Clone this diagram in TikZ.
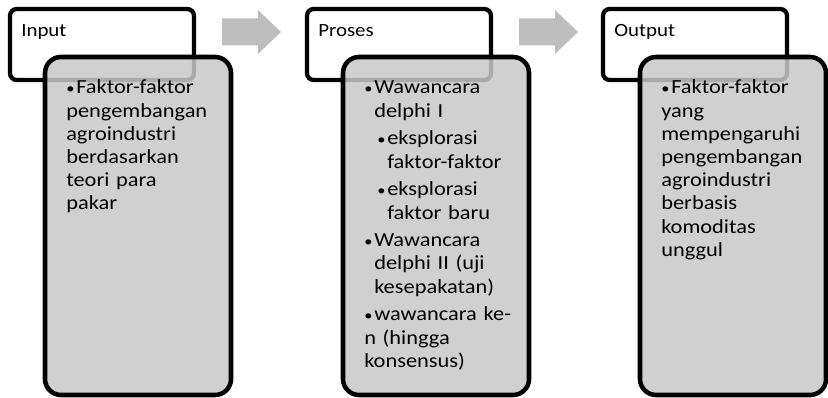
\documentclass[tikz,border=0pt]{standalone}
\usepackage{fontspec}
\setmainfont{Carlito}[FakeStretch=1.12]

\definecolor{panelgray}{RGB}{200,200,200}
\definecolor{arrowgray}{RGB}{190,190,190}

\newcommand{\dotmark}{\makebox[7.5pt][l]{\fontsize{11}{11}\selectfont\textbullet}}
\newcommand{\bitem}[1]{\hangindent=7.5pt\hangafter=1\noindent\dotmark#1}
\newcommand{\bsubitem}[1]{\hangindent=17.25pt\hangafter=1\noindent\hspace*{9.75pt}\dotmark#1}
\newcommand{\bodyfont}{\fontsize{15}{17.4}\selectfont\parskip=3.4pt\hyphenpenalty=10000 }

\tikzset{
  headbox/.style={draw=black, line width=3.2pt, rounded corners=5pt, fill=white,
    minimum width=138pt, minimum height=53.25pt, inner sep=0pt, outer sep=0pt},
  panel/.style={draw=black, line width=3.4pt, rounded corners=12pt, fill=panelgray, fill opacity=0.85,
    minimum width=139.5pt, minimum height=253.5pt, inner sep=0pt, outer sep=0pt, anchor=north west},
  headtext/.style={anchor=base west, inner sep=0pt, font=\fontsize{14}{17}\selectfont},
  bodytext/.style={anchor=base west, inner sep=0pt, text width=128pt, align=left, font=\bodyfont},
}

\begin{document}
\begin{tikzpicture}[x=0.75pt,y=-0.75pt]
\useasboundingbox (0,0) rectangle (828,398);

%input
\node[headbox] (inhead) at (102,44.5) {};
\node[headtext] (intitle) at ([shift={(11,28)}]inhead.north west) {Input};
\node[panel] (inbody) at ([shift={(35,48)}]inhead.north west) {};
\node[bodytext] (intext) at ([shift={(21,37)}]inbody.north west) {%
  \bitem{Faktor-faktor\newline pengembangan\newline agroindustri\newline berdasarkan\newline teori para\newline pakar}};

%proses
\node[headbox] (prhead) at (399,44.5) {};
\node[headtext] (prtitle) at ([shift={(11,28)}]prhead.north west) {Proses};
\node[panel] (prbody) at ([shift={(36,48)}]prhead.north west) {};
\node[bodytext] (prtext) at ([shift={(21,37)}]prbody.north west) {%
  \bitem{Wawancara\newline delphi I}\par
  \bsubitem{eksplorasi\newline faktor-faktor}\par
  \bsubitem{eksplorasi\newline faktor baru}\par
  \bitem{Wawancara\newline delphi II (uji\newline kesepakatan)}\par
  \bitem{wawancara ke-\newline n (hingga\newline konsensus)}};

%output
\node[headbox] (ouhead) at (695,44.5) {};
\node[headtext] (outitle) at ([shift={(11,28)}]ouhead.north west) {Output};
\node[panel] (oubody) at ([shift={(37,48)}]ouhead.north west) {};
\node[bodytext] (outext) at ([shift={(21,37)}]oubody.north west) {%
  \bitem{Faktor-faktor\newline yang\newline mempengaruhi\newline pengembangan\newline agroindustri\newline berbasis\newline komoditas\newline unggul}};

%arrows
\foreach \s in {inhead,prhead}
  \fill[arrowgray] ([shift={(28,-12.5)}]\s.east) ++(0,-13.5) -- ++(36,0) -- ++(0,-8.5)
    -- ++(23,22) -- ++(-23,22) -- ++(0,-8.5) -- ++(-36,0) -- cycle;
\end{tikzpicture}
\end{document}
